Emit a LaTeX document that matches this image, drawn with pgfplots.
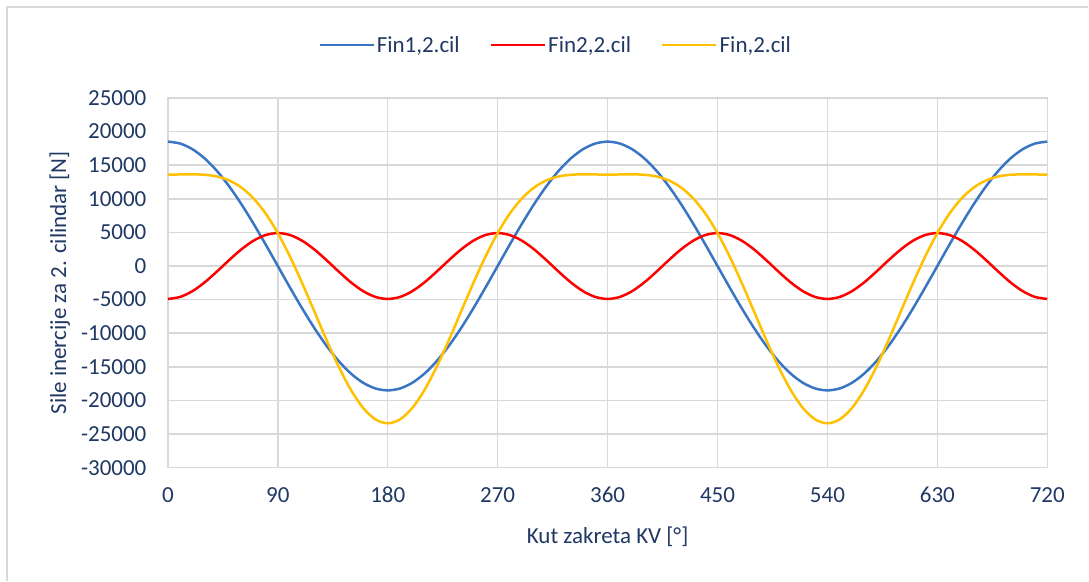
\documentclass[border=0pt]{standalone}
\usepackage{pgfplots}
\pgfplotsset{compat=1.18}
\usepackage{pgfplotstable}
\usepackage{fontspec}
\setmainfont{Carlito}
\definecolor{txt}{HTML}{203864}
\definecolor{grd}{HTML}{D9D9D9}
\definecolor{cblue}{HTML}{3A75C4}
\definecolor{cred}{HTML}{FF0000}
\definecolor{cgold}{HTML}{FFC000}
\pgfplotstableread{
x f1 f2 f
0 18500 -4900 13600
10 18219 -4605 13614
20 17384 -3754 13630
30 16022 -2450 13572
40 14172 -851 13321
50 11892 851 12743
60 9250 2450 11700
70 6327 3754 10081
80 3213 4605 7818
90 0 4900 4900
100 -3213 4605 1392
110 -6327 3754 -2573
120 -9250 2450 -6800
130 -11892 851 -11041
140 -14172 -851 -15023
150 -16022 -2450 -18472
160 -17384 -3754 -21138
170 -18219 -4605 -22824
180 -18500 -4900 -23400
190 -18219 -4605 -22824
200 -17384 -3754 -21138
210 -16022 -2450 -18472
220 -14172 -851 -15023
230 -11892 851 -11041
240 -9250 2450 -6800
250 -6327 3754 -2573
260 -3213 4605 1392
270 0 4900 4900
280 3213 4605 7818
290 6327 3754 10081
300 9250 2450 11700
310 11892 851 12743
320 14172 -851 13321
330 16022 -2450 13572
340 17384 -3754 13630
350 18219 -4605 13614
360 18500 -4900 13600
370 18219 -4605 13614
380 17384 -3754 13630
390 16022 -2450 13572
400 14172 -851 13321
410 11892 851 12743
420 9250 2450 11700
430 6327 3754 10081
440 3213 4605 7818
450 0 4900 4900
460 -3213 4605 1392
470 -6327 3754 -2573
480 -9250 2450 -6800
490 -11892 851 -11041
500 -14172 -851 -15023
510 -16022 -2450 -18472
520 -17384 -3754 -21138
530 -18219 -4605 -22824
540 -18500 -4900 -23400
550 -18219 -4605 -22824
560 -17384 -3754 -21138
570 -16022 -2450 -18472
580 -14172 -851 -15023
590 -11892 851 -11041
600 -9250 2450 -6800
610 -6327 3754 -2573
620 -3213 4605 1392
630 0 4900 4900
640 3213 4605 7818
650 6327 3754 10081
660 9250 2450 11700
670 11892 851 12743
680 14172 -851 13321
690 16022 -2450 13572
700 17384 -3754 13630
710 18219 -4605 13614
720 18500 -4900 13600
}\datatable
\begin{document}
\begin{tikzpicture}[x=1pt,y=1pt]
\path (0,0) rectangle (1089,581);
\draw[grd, line width=1.5pt] (7,0) -- (7,574) -- (1089,574);
\begin{axis}[
  at={(168pt,113pt)}, anchor=south west,
  scale only axis, width=880pt, height=370pt,
  xmin=0, xmax=720, ymin=-30000, ymax=25000,
  xtick={0,90,...,720}, ytick={-30000,-25000,...,25000},
  grid=major, major grid style={grd, line width=1.5pt},
  axis line style={grd, line width=1.5pt},
  major tick length=0pt,
  scaled y ticks=false,
  /pgf/number format/assume math mode=true,
  yticklabel={\pgfmathprintnumber[fixed,1000 sep={}]{\tick}},
  xticklabel={\pgfmathprintnumber[fixed,1000 sep={}]{\tick}},
  tick label style={font=\fontsize{23}{28}\selectfont, text=txt},
  yticklabel style={xshift=-18pt},
  xticklabel style={yshift=-16pt},
  label style={font=\fontsize{23}{28}\selectfont, text=txt},
  xlabel={Kut zakreta KV [°]},
  ylabel={Sile inercije za 2. cilindar [N]},
  xlabel style={at={(axis description cs:0.5,0)}, anchor=center, yshift=-69pt},
  ylabel style={at={(axis description cs:-0.123,0.5)}, anchor=center},
  legend columns=3,
  legend style={draw=none, fill=none, at={(0.441,1.143)}, anchor=center,
    font=\fontsize{23}{28}\selectfont, text=txt,
    /tikz/every even column/.append style={column sep=28pt}},
  legend image code/.code={\draw[#1, line width=2.5pt] (0pt,0pt) -- (54pt,0pt);},
]
\addplot[cblue, line width=2.5pt, smooth] table[x=x,y=f1] {\datatable};
\addlegendentry{Fin1,2.cil}
\addplot[cred, line width=2.5pt, smooth] table[x=x,y=f2] {\datatable};
\addlegendentry{Fin2,2.cil}
\addplot[cgold, line width=2.5pt, smooth] table[x=x,y=f] {\datatable};
\addlegendentry{Fin,2.cil}
\end{axis}
\end{tikzpicture}
\end{document}
